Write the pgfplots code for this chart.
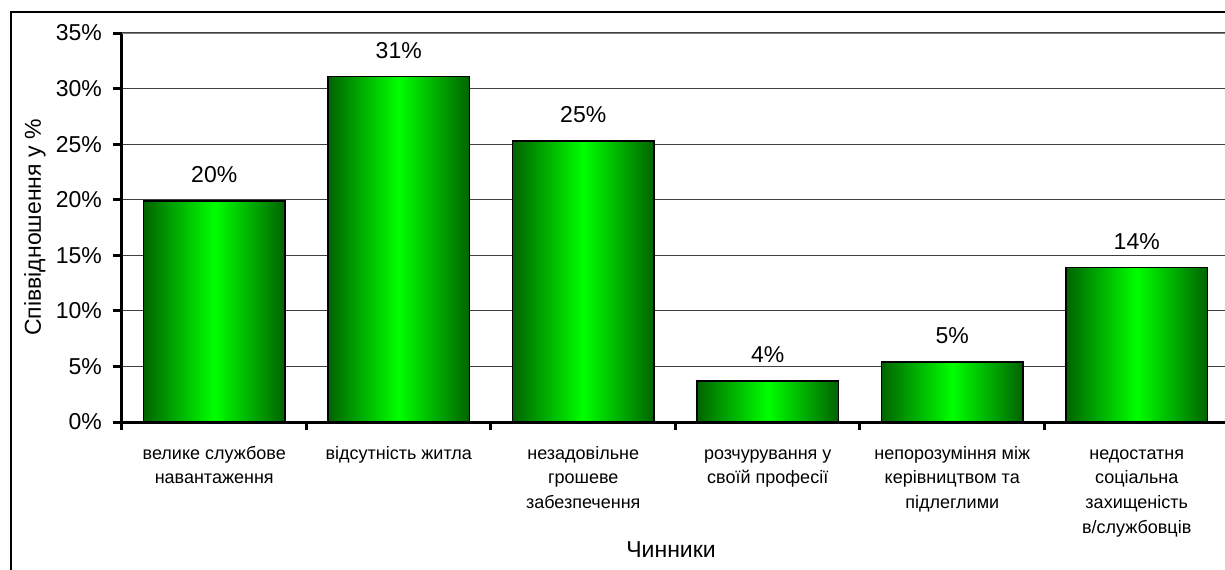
\documentclass[border=0pt]{standalone}
\usepackage{fontspec}
\setmainfont{Liberation Sans}
\usepackage{pgfplots}
\pgfplotsset{compat=1.18}
\definecolor{bardark}{HTML}{006400}
\definecolor{barlight}{HTML}{00FF00}
\pgfplotsset{
    greenbar/.style={ybar, bar width=0.765, bar shift=0pt, draw=black,
        line width=0.75pt,
        left color=bardark, right color=bardark, middle color=barlight,
        point meta=y,
        nodes near coords={\pgfmathprintnumber[fixed,precision=0]{\pgfplotspointmeta}\%},
        nodes near coords style={anchor=center, yshift=13pt, black,
            font=\fontsize{11.5}{13}\selectfont}},
}
\begin{document}
\begin{tikzpicture}
\clip (-61pt,-73.5pt) rectangle (551.5pt,211pt);
% outer chart frame (cut at right and bottom like the reference)
\draw[line width=1pt] (-55.5pt,-300pt) rectangle (800pt,205pt);
\begin{axis}[
    at={(0pt,0pt)}, anchor=south west,
    scale only axis,
    width=553.5pt, height=194.5pt,
    xmin=-0.5, xmax=5.5,
    ymin=0, ymax=35,
    axis x line*=bottom, axis y line*=left,
    axis line style={-, black, line width=1.5pt},
    /pgf/number format/assume math mode=true,
    tick align=outside,
    every tick/.style={black, line width=1.5pt},
    major tick length=4.5pt,
    minor tick length=4pt,
    xtick={0,1,2,3,4,5},
    minor xtick={-0.5,0.5,1.5,2.5,3.5,4.5,5.5},
    every major x tick/.append style={draw=none},
    xticklabels={
        {\strut велике службове\\навантаження},
        {\strut відсутність житла},
        {\strut незадовільне\\грошеве\\забезпечення},
        {\strut розчурування у\\своїй професії},
        {\strut непорозуміння між\\керівництвом та\\підлеглими},
        {\strut недостатня\\соціальна\\захищеність\\в/службовців}},
    xticklabel style={align=center, anchor=north, yshift=-2pt,
        font=\fontsize{9}{12.3}\selectfont},
    ytick={0,5,...,35},
    yticklabel={\pgfmathprintnumber{\tick}\%},
    yticklabel style={xshift=-2pt, font=\fontsize{11.5}{13}\selectfont},
    ymajorgrids,
    major grid style={black!75, line width=0.6pt},
    xlabel={Чинники},
    xlabel style={at={(axis description cs:0.496,-0.329)}, anchor=center,
        font=\fontsize{11.5}{13}\selectfont},
    ylabel={Співвідношення у \%},
    ylabel style={at={(axis description cs:-0.0786,0.5)}, anchor=center,
        font=\fontsize{11.5}{13}\selectfont},
]
\addplot[greenbar] coordinates {(0,19.9)};
\addplot[greenbar] coordinates {(1,31.1)};
\addplot[greenbar] coordinates {(2,25.3)};
\addplot[greenbar] coordinates {(3,3.7)};
\addplot[greenbar] coordinates {(4,5.4)};
\addplot[greenbar] coordinates {(5,13.9)};
\draw[gray, line width=1pt] (rel axis cs:0,1) -- (rel axis cs:1,1);
\end{axis}
\end{tikzpicture}
\end{document}
